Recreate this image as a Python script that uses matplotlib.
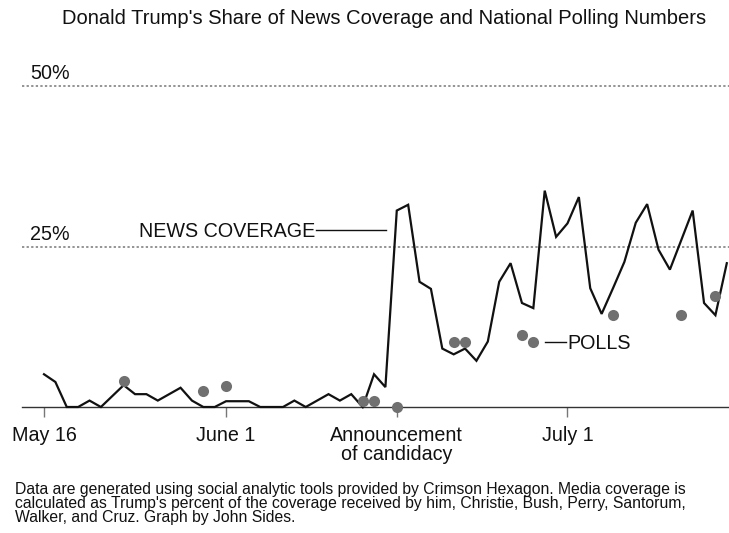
import matplotlib
matplotlib.use("Agg")
import matplotlib.pyplot as plt

plt.rcParams['font.family'] = ['Liberation Sans', 'DejaVu Sans']

# Days since May 16 (day 0), 2015
news_days = list(range(0, 61))
news_values = [5.1, 3.9, 0, 0, 1.0, 0, 1.7, 3.4, 2.0, 2.0,
               1.0, 2.0, 3.0, 1.0, 0, 0, 0.9, 0.9, 0.9, 0,
               0, 0, 1.0, 0, 1.0, 2.0, 1.0, 2.0, 0, 5.1,
               3.1, 30.6, 31.5, 19.5, 18.4, 9.1, 8.2, 9.1, 7.2, 10.2,
               19.5, 22.4, 16.2, 15.4, 33.7, 26.5, 28.6, 32.7, 18.5, 14.5,
               18.5, 22.6, 28.7, 31.6, 24.5, 21.4, 26.0, 30.6, 16.2, 14.3,
               22.4]

poll_days = [7, 14, 16, 28, 29, 31, 36, 37, 42, 43, 50, 56, 59]
poll_values = [4.0, 2.5, 3.2, 0.9, 0.9, 0.0, 10.2, 10.2, 11.2, 10.2, 14.3, 14.3, 17.3]

tick_days = [0, 16, 31, 46]
tick_labels = ["May 16", "June 1", "Announcement\nof candidacy", "July 1"]

grid_values = [25, 50]
grid_labels = ["25%", "50%"]

W, H = 729, 533
fig = plt.figure(figsize=(W / 100, H / 100), dpi=100)

px_per_day = 11.38
x0_px = 44
ax_left_px, ax_right_px = 22, 729
ax_bottom_px, ax_top_px = 407, 86
ax = fig.add_axes([ax_left_px / W, (H - ax_bottom_px) / H,
                   (ax_right_px - ax_left_px) / W, (ax_bottom_px - ax_top_px) / H])
ax.set_xlim((ax_left_px - x0_px) / px_per_day, (ax_right_px - x0_px) / px_per_day)
ax.set_ylim(0, 50)

FS = 14.2
for g, lab in zip(grid_values, grid_labels):
    ax.axhline(g, color='#777777', linestyle=(0, (1.5, 1.5)), linewidth=1.1, zorder=1, clip_on=False)
    ax.annotate(lab, xy=((30 - x0_px) / px_per_day, g), xycoords='data',
                xytext=(0, 9), textcoords='offset points', fontsize=FS,
                ha='left', va='center', color='#111111')

ax.plot(news_days, news_values, color='#111111', linewidth=1.6, zorder=3, clip_on=False,
        solid_joinstyle='miter')
ax.plot(poll_days, poll_values, linestyle='none', marker='o', markersize=8,
        color='#707070', markeredgewidth=0, zorder=4, clip_on=False)

for sp in ['top', 'right', 'left']:
    ax.spines[sp].set_visible(False)
ax.spines['bottom'].set_color('#333333')
ax.spines['bottom'].set_linewidth(1.0)
ax.set_yticks([])
ax.set_xticks(tick_days)
ax.set_xticklabels(tick_labels, fontsize=FS, color='#111111', linespacing=1.0)
ax.tick_params(axis='x', length=7, width=1, color='#777777', pad=7)

# Series labels
ax.text((315 - x0_px) / px_per_day, 27.3, "NEWS COVERAGE", fontsize=FS, ha='right',
        va='center', color='#111111')
ax.plot([(316 - x0_px) / px_per_day, (386 - x0_px) / px_per_day], [27.6, 27.6],
        color='#111111', linewidth=1.0)
ax.plot([(545 - x0_px) / px_per_day, (566 - x0_px) / px_per_day], [10.2, 10.2],
        color='#111111', linewidth=1.0)
ax.text((567 - x0_px) / px_per_day, 9.9, "POLLS", fontsize=FS, ha='left',
        va='center', color='#111111')

fig.text(384 / W, 1 - 19 / H, "Donald Trump's Share of News Coverage and National Polling Numbers",
         fontsize=14.5, ha='center', va='center', color='#111111')

fig.text(15 / W, 1 - 482 / H,
         "Data are generated using social analytic tools provided by Crimson Hexagon. Media coverage is\n"
         "calculated as Trump's percent of the coverage received by him, Christie, Bush, Perry, Santorum,\n"
         "Walker, and Cruz. Graph by John Sides.",
         fontsize=11.3, ha='left', va='top', color='#111111', linespacing=0.92)

fig.savefig("out.png", dpi=100)
